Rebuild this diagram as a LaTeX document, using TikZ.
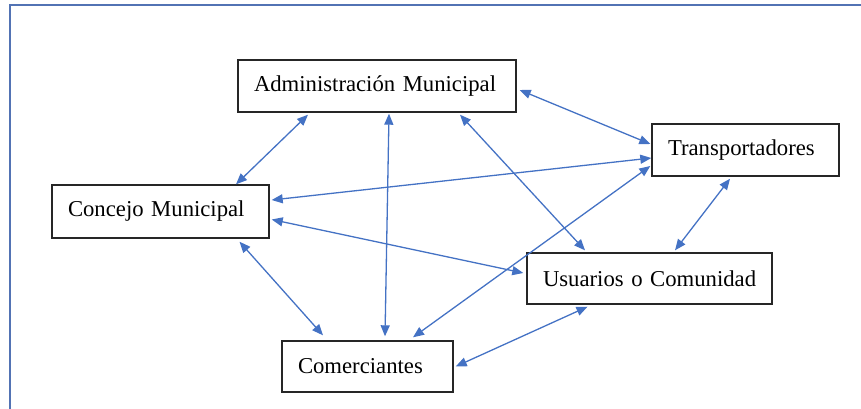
\documentclass[tikz,border=0pt]{standalone}
\usepackage{fontspec}
\setmainfont{Liberation Serif}
\usetikzlibrary{arrows.meta}
\definecolor{azul}{RGB}{68,114,196}
\definecolor{marco}{RGB}{82,115,180}
\newcommand{\flechacol}{azul}
\newcommand{\marcocol}{marco}
\newcommand{\etiqueta}[1]{\makebox[\linewidth][l]{#1}}
\tikzset{
  caja/.style={draw=black!85, line width=1.4pt, inner xsep=16pt, inner ysep=0pt,
    align=left, font=\fontsize{22.7}{27}\selectfont},
  flecha/.style={draw=\flechacol, line width=1.3pt,
    {Triangle[length=11pt,width=9pt]}-{Triangle[length=11pt,width=9pt]}}
}
\begin{document}
\begin{tikzpicture}[x=1pt, y=-1pt]

        \useasboundingbox (0, 0) rectangle (861, 408);

        % marco
        \draw[\marcocol, line width=1.5pt] (10, 430) -- (10, 5) -- (880, 5);

        % actores
        \node[caja, text width=246pt, minimum height=52pt] (adm) at (377, 86) {\etiqueta{Administración Municipal}};
        \node[caja, text width=185pt, minimum height=53pt] (con) at (160.5, 211.5) {\etiqueta{Concejo Municipal}};
        \node[caja, text width=155pt, minimum height=52pt] (tra) at (745.5, 150) {\etiqueta{Transportadores}};
        \node[caja, text width=213pt, minimum height=51pt] (usu) at (649.5, 278.5) {\etiqueta{Usuarios o Comunidad}};
        \node[caja, text width=139pt, minimum height=51pt] (com) at (367.5, 366.5) {\etiqueta{Comerciantes}};

        % relaciones
        \draw[flecha] ([xshift=-69pt, yshift=-2pt]adm.south) -- ([xshift=75.5pt]con.north);
        \draw[flecha] ([xshift=12pt, yshift=-1pt]adm.south) -- ([xshift=17.5pt, yshift=4pt]com.north);
        \draw[flecha] ([xshift=83pt, yshift=-2pt]adm.south) -- ([xshift=-64.5pt, yshift=2pt]usu.north);
        \draw[flecha] ([xshift=3pt, yshift=-4pt]adm.east) -- ([xshift=-1pt, yshift=6pt]tra.west);
        \draw[flecha] ([yshift=-8pt]tra.west) -- ([xshift=2pt, yshift=11.5pt]con.east);
        \draw[flecha] ([xshift=-1pt, yshift=-16pt]tra.west) -- ([xshift=45.5pt, yshift=3pt]com.north);
        \draw[flecha] ([xshift=-15.5pt, yshift=-2pt]tra.south) -- ([xshift=25.5pt, yshift=2pt]usu.north);
        \draw[flecha] ([xshift=2pt, yshift=-8pt]con.east) -- ([xshift=-3pt, yshift=5.5pt]usu.west);
        \draw[flecha] ([xshift=79pt, yshift=-3pt]con.south) -- ([xshift=-44.5pt, yshift=5pt]com.north);
        \draw[flecha] ([xshift=2pt]com.east) -- ([xshift=-62pt, yshift=-2pt]usu.south);

\end{tikzpicture}
\end{document}
